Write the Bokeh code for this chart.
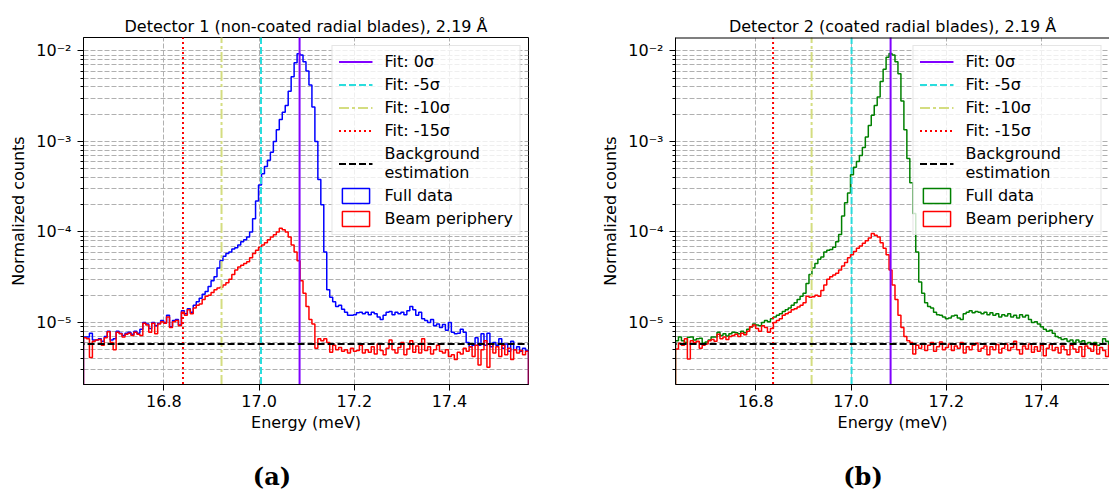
import numpy as np
from bokeh.plotting import figure
from bokeh.models import (Range1d, FixedTicker, PrintfTickFormatter, Legend,
                          LegendItem, Div)
from bokeh.layouts import row, column
from bokeh.embed import file_html
from bokeh.resources import INLINE

# ---------------- data ----------------
energy_bin_start = 16.631   # meV, left edge of first bin
energy_bin_width = 0.006233  # meV
n_bins = 150

full_a = [
    6.9e-6, 6.9e-6, 7.6e-6, 6.4e-6, 6.4e-6, 6.6e-6, 6.2e-6, 7.0e-6, 8.0e-6, 6.4e-6,
    6.6e-6, 8.0e-6, 7.6e-6, 7.2e-6, 7.6e-6, 7.8e-6, 7.4e-6, 8.0e-6, 7.6e-6, 8.4e-6,
    1.0e-5, 9.6e-6, 8.6e-6, 1.0e-5, 9.2e-6, 9.8e-6, 1.05e-5, 1.0e-5, 1.2e-5, 9.0e-6,
    1.05e-5, 1.08e-5, 9.4e-6, 1.35e-5, 1.25e-5, 1.42e-5, 1.3e-5, 1.55e-5, 1.7e-5, 1.85e-5,
    2.05e-5, 2.2e-5, 2.5e-5, 2.9e-5, 3.2e-5, 4.0e-5, 4.8e-5, 5.4e-5, 5.8e-5, 6.0e-5,
    6.5e-5, 6.7e-5, 7.2e-5, 7.8e-5, 8.2e-5, 8.8e-5, 1.0e-4, 1.4e-4, 2.2e-4, 3.3e-4,
    4.4e-4, 5.3e-4, 6.2e-4, 7.6e-4, 1.0e-3, 1.35e-3, 1.75e-3, 2.1e-3, 2.5e-3, 3.6e-3,
    5.2e-3, 7.4e-3, 9.3e-3, 9.0e-3, 7.6e-3, 6.0e-3, 4.2e-3, 2.4e-3, 1.0e-3, 3.8e-4,
    2.0e-4, 6.0e-5, 2.3e-5, 1.9e-5, 1.7e-5, 1.5e-5, 1.55e-5, 1.4e-5, 1.3e-5, 1.2e-5,
    1.2e-5, 1.22e-5, 1.28e-5, 1.3e-5, 1.25e-5, 1.3e-5, 1.22e-5, 1.3e-5, 1.25e-5, 1.15e-5,
    1.08e-5, 1.2e-5, 1.3e-5, 1.32e-5, 1.22e-5, 1.3e-5, 1.25e-5, 1.3e-5, 1.22e-5, 1.35e-5,
    1.5e-5, 1.38e-5, 1.2e-5, 1.3e-5, 1.1e-5, 1.05e-5, 1.0e-5, 1.08e-5, 9.2e-6, 9.6e-6,
    8.8e-6, 9.5e-6, 8.2e-6, 1.0e-5, 7.8e-6, 7.5e-6, 7.6e-6, 8.4e-6, 7.8e-6, 6.0e-6,
    5.4e-6, 5.6e-6, 6.8e-6, 5.6e-6, 7.5e-6, 5.6e-6, 7.6e-6, 5.4e-6, 6.0e-6, 5.6e-6,
    6.6e-6, 5.2e-6, 5.8e-6, 4.8e-6, 6.2e-6, 5.0e-6, 5.4e-6, 4.8e-6, 5.2e-6, 4.9e-6,
]

beam_a = [
    6.8e-6, 6.6e-6, 4.1e-6, 6.2e-6, 6.4e-6, 6.5e-6, 5.6e-6, 6.8e-6, 7.9e-6, 6.0e-6,
    5.0e-6, 7.8e-6, 7.5e-6, 6.9e-6, 7.4e-6, 7.6e-6, 7.2e-6, 7.8e-6, 7.4e-6, 7.2e-6,
    9.8e-6, 9.4e-6, 7.8e-6, 9.8e-6, 7.5e-6, 9.6e-6, 1.02e-5, 9.8e-6, 1.15e-5, 8.8e-6,
    1.02e-5, 1.05e-5, 9.2e-6, 1.3e-5, 1.2e-5, 1.38e-5, 1.25e-5, 1.45e-5, 1.55e-5, 1.6e-5,
    1.8e-5, 1.95e-5, 2.0e-5, 2.15e-5, 2.3e-5, 2.4e-5, 2.45e-5, 2.6e-5, 2.75e-5, 3.0e-5,
    3.4e-5, 3.8e-5, 4.1e-5, 4.3e-5, 4.5e-5, 4.7e-5, 5.2e-5, 5.8e-5, 6.3e-5, 6.8e-5,
    7.2e-5, 7.6e-5, 8.2e-5, 8.8e-5, 9.3e-5, 1.0e-4, 1.1e-4, 1.06e-4, 1.0e-4, 8.8e-5,
    7.2e-5, 6.0e-5, 4.8e-5, 2.9e-5, 2.1e-5, 1.5e-5, 1.08e-5, 9.6e-6, 5.2e-6, 6.6e-6,
    6.3e-6, 6.6e-6, 6.0e-6, 4.7e-6, 5.6e-6, 5.0e-6, 5.3e-6, 4.8e-6, 5.0e-6, 4.6e-6,
    5.2e-6, 4.8e-6, 4.9e-6, 5.6e-6, 4.6e-6, 5.0e-6, 4.7e-6, 5.4e-6, 4.5e-6, 5.8e-6,
    4.9e-6, 4.4e-6, 5.2e-6, 6.4e-6, 5.0e-6, 4.6e-6, 5.3e-6, 6.0e-6, 4.4e-6, 5.1e-6,
    6.3e-6, 4.7e-6, 5.5e-6, 4.6e-6, 6.6e-6, 4.9e-6, 5.4e-6, 4.5e-6, 5.0e-6, 5.6e-6,
    4.8e-6, 4.6e-6, 5.0e-6, 4.2e-6, 4.4e-6, 3.9e-6, 4.7e-6, 4.5e-6, 5.2e-6, 4.8e-6,
    5.4e-6, 4.2e-6, 5.6e-6, 3.4e-6, 5.0e-6, 6.3e-6, 3.2e-6, 5.8e-6, 4.6e-6, 5.4e-6,
    4.2e-6, 5.6e-6, 4.4e-6, 5.2e-6, 3.9e-6, 5.0e-6, 4.6e-6, 4.9e-6, 4.4e-6, 4.8e-6,
]

full_b = [
    6.3e-6, 6.9e-6, 6.3e-6, 6.0e-6, 6.85e-6, 6.9e-6, 6.4e-6, 6.6e-6, 6.7e-6, 5.9e-6,
    6.1e-6, 6.4e-6, 6.9e-6, 6.9e-6, 7.8e-6, 7.2e-6, 7.5e-6, 7.1e-6, 7.5e-6, 7.8e-6,
    7.7e-6, 7.5e-6, 8.0e-6, 7.7e-6, 8.4e-6, 8.9e-6, 9.6e-6, 9.4e-6, 9.2e-6, 1.0e-5,
    1.05e-5, 1.02e-5, 1.1e-5, 1.15e-5, 1.2e-5, 1.25e-5, 1.32e-5, 1.38e-5, 1.45e-5, 1.55e-5,
    1.65e-5, 1.8e-5, 1.95e-5, 2.1e-5, 2.7e-5, 3.4e-5, 4.0e-5, 4.5e-5, 5.0e-5, 5.3e-5,
    6.0e-5, 6.3e-5, 6.4e-5, 6.8e-5, 7.8e-5, 9.4e-5, 1.5e-4, 2.1e-4, 2.7e-4, 4.3e-4,
    5.2e-4, 6.0e-4, 7.0e-4, 8.6e-4, 1.12e-3, 1.5e-3, 1.95e-3, 2.5e-3, 3.1e-3, 4.6e-3,
    6.3e-3, 8.5e-3, 9.4e-3, 9.0e-3, 7.6e-3, 5.6e-3, 2.8e-3, 1.35e-3, 6.5e-4, 3.5e-4,
    1.6e-4, 6.0e-5, 2.8e-5, 2.1e-5, 1.65e-5, 1.5e-5, 1.45e-5, 1.3e-5, 1.22e-5, 1.2e-5,
    1.15e-5, 1.1e-5, 1.12e-5, 1.18e-5, 1.2e-5, 1.12e-5, 1.08e-5, 1.25e-5, 1.3e-5, 1.35e-5,
    1.28e-5, 1.32e-5, 1.3e-5, 1.25e-5, 1.3e-5, 1.22e-5, 1.28e-5, 1.2e-5, 1.25e-5, 1.15e-5,
    1.22e-5, 1.18e-5, 1.25e-5, 1.15e-5, 1.2e-5, 1.12e-5, 1.22e-5, 1.15e-5, 1.2e-5, 1.08e-5,
    1.0e-5, 1.02e-5, 9.6e-6, 9.0e-6, 8.4e-6, 8.0e-6, 8.2e-6, 7.6e-6, 7.0e-6, 6.8e-6,
    6.5e-6, 6.6e-6, 6.2e-6, 6.4e-6, 6.0e-6, 6.4e-6, 6.1e-6, 6.3e-6, 5.8e-6, 6.0e-6,
    5.7e-6, 6.0e-6, 5.6e-6, 5.8e-6, 6.6e-6, 6.2e-6, 5.6e-6, 5.8e-6, 5.6e-6, 5.5e-6,
]

beam_b = [
    5.1e-6, 5.9e-6, 5.6e-6, 6.6e-6, 3.95e-6, 6.3e-6, 6.0e-6, 6.2e-6, 5.2e-6, 5.6e-6,
    5.8e-6, 6.3e-6, 6.5e-6, 6.2e-6, 7.4e-6, 6.6e-6, 6.9e-6, 6.5e-6, 7.0e-6, 7.2e-6,
    7.4e-6, 7.0e-6, 7.6e-6, 7.3e-6, 8.0e-6, 9.0e-6, 9.4e-6, 8.6e-6, 8.0e-6, 9.2e-6,
    8.8e-6, 7.8e-6, 8.6e-6, 1.0e-5, 1.05e-5, 1.1e-5, 1.2e-5, 1.25e-5, 1.3e-5, 1.38e-5,
    1.42e-5, 1.48e-5, 1.55e-5, 1.65e-5, 1.95e-5, 1.9e-5, 1.92e-5, 2.0e-5, 1.95e-5, 2.25e-5,
    2.6e-5, 3.0e-5, 3.2e-5, 3.35e-5, 3.5e-5, 3.8e-5, 4.2e-5, 4.6e-5, 5.2e-5, 5.6e-5,
    6.1e-5, 6.6e-5, 7.0e-5, 7.5e-5, 8.0e-5, 8.6e-5, 9.6e-5, 9.2e-5, 8.8e-5, 7.6e-5,
    6.6e-5, 5.6e-5, 3.8e-5, 2.6e-5, 1.8e-5, 1.2e-5, 8.8e-6, 7.0e-6, 6.3e-6, 6.0e-6,
    4.5e-6, 5.6e-6, 5.2e-6, 5.8e-6, 4.9e-6, 5.6e-6, 6.0e-6, 4.8e-6, 5.4e-6, 6.1e-6,
    5.0e-6, 5.3e-6, 5.8e-6, 4.9e-6, 5.5e-6, 5.2e-6, 6.0e-6, 4.6e-6, 5.4e-6, 5.0e-6,
    5.6e-6, 5.9e-6, 4.8e-6, 5.2e-6, 5.5e-6, 4.4e-6, 5.4e-6, 5.0e-6, 5.7e-6, 4.6e-6,
    5.2e-6, 5.8e-6, 4.9e-6, 5.3e-6, 6.2e-6, 5.0e-6, 4.5e-6, 5.5e-6, 5.1e-6, 5.8e-6,
    4.7e-6, 5.4e-6, 4.8e-6, 5.6e-6, 4.3e-6, 5.2e-6, 5.7e-6, 4.9e-6, 5.3e-6, 4.6e-6,
    5.5e-6, 5.0e-6, 4.4e-6, 5.6e-6, 5.1e-6, 4.7e-6, 5.4e-6, 4.2e-6, 5.5e-6, 5.2e-6,
    4.8e-6, 5.6e-6, 4.5e-6, 5.3e-6, 4.9e-6, 4.2e-6, 5.6e-6, 3.8e-6, 5.0e-6, 3.2e-6,
]

fit_labels = ["Fit: 0σ", "Fit: -5σ", "Fit: -10σ", "Fit: -15σ"]
fit_energy_a = [17.085, 17.004, 16.921, 16.840]
fit_energy_b = [17.083, 17.001, 16.917, 16.836]
background_a = 5.78e-6
background_b = 5.78e-6

titles = ["Detector 1 (non-coated radial blades), 2.19 Å",
          "Detector 2 (coated radial blades), 2.19 Å"]
sub_captions = ["(a)", "(b)"]
x_tick_values = [16.8, 17.0, 17.2, 17.4]
y_tick_values = [1e-5, 1e-4, 1e-3, 1e-2]
y_tick_labels = ["10⁻⁵", "10⁻⁴", "10⁻³", "10⁻²"]
legend_labels_other = ["Background\nestimation", "Full data", "Beam periphery"]

# ---------------- styling ----------------
FONT = "DejaVu Sans"
FIT_COLORS = ["#8000ff", "#2adddd", "#d4dd80", "#ff0000"]
FIT_DASH = ["solid", "7 3", "10 3 3 3", "2 3"]
GRID_COLOR = "#b0b0b0"
Y_LO, Y_HI = 2.065e-6, 1.409e-2
FLOOR = 1e-8
CEIL = 1.0
FIG_H = 455
CAP_H = 491 - FIG_H


def make_panel(idx, full, beam, full_color, fits, bg, width, bl, br, x_end,
               outline, title_offset):
    p = figure(width=width, height=FIG_H, y_axis_type="log",
               x_range=Range1d(energy_bin_start, x_end),
               y_range=Range1d(Y_LO, Y_HI),
               output_backend="svg", toolbar_location=None,
               min_border_left=bl, min_border_right=br,
               min_border_top=37, min_border_bottom=FIG_H - 384)
    p.background_fill_color = "white"
    p.border_fill_color = "white"
    p.outline_line_color = "black" if outline else None
    p.outline_line_width = 1

    p.title.text = titles[idx]
    p.title.align = "center"
    p.title.text_font = FONT
    p.title.text_font_size = "16px"
    p.title.text_font_style = "normal"
    p.title.text_color = "black"
    p.title.standoff = 4
    p.title.offset = title_offset

    x0, x1 = energy_bin_start - 1.0, x_end + 1.0

    # histograms as step outlines (closed to the bottom like matplotlib's step hist)
    edges = energy_bin_start + energy_bin_width * np.arange(n_bins + 1)
    xs = np.repeat(edges, 2)
    r_full = p.patch(xs, np.concatenate([[FLOOR], np.repeat(full, 2), [FLOOR]]),
                     fill_color=None, line_color=full_color, line_width=1.5)
    r_beam = p.patch(xs, np.concatenate([[FLOOR], np.repeat(beam, 2), [FLOOR]]),
                     fill_color=None, line_color="#ff0000", line_width=1.5)

    items = []
    for lab, e, c, d in zip(fit_labels, fits, FIT_COLORS, FIT_DASH):
        r = p.line(x=[e, e], y=[FLOOR, CEIL], line_color=c, line_width=2, line_dash=d)
        items.append(LegendItem(label=lab, renderers=[r]))
    r_bg = p.line(x=[x0, x1], y=[bg, bg], line_color="black", line_width=2,
                  line_dash="7 3")
    items.append(LegendItem(label=legend_labels_other[0], renderers=[r_bg]))
    items.append(LegendItem(label=legend_labels_other[1], renderers=[r_full]))
    items.append(LegendItem(label=legend_labels_other[2], renderers=[r_beam]))

    if not outline:
        # top spine only (right side of this panel is cut off in the reference)
        p.line(x=[x0, x1], y=[Y_HI, Y_HI], line_color="black", line_width=2)

    legend = Legend(items=items, location="top_right",
                    label_text_font=FONT, label_text_font_size="16px",
                    label_text_color="black",
                    glyph_width=34, glyph_height=19, label_height=19,
                    label_standoff=12, padding=6, spacing=4, margin=8,
                    border_line_color="#cccccc", border_line_width=1,
                    background_fill_color="white", background_fill_alpha=0.8)
    p.add_layout(legend)

    # axes
    xt = FixedTicker(ticks=x_tick_values)
    p.xaxis.ticker = xt
    p.xgrid.ticker = xt
    p.xaxis.formatter = PrintfTickFormatter(format="%.1f")
    minor = [k * 10.0 ** e for e in range(-6, -1) for k in range(2, 10)]
    yt = FixedTicker(ticks=y_tick_values, minor_ticks=minor)
    p.yaxis.ticker = yt
    p.ygrid.ticker = yt
    p.yaxis.major_label_overrides = {v: l for v, l in zip(y_tick_values, y_tick_labels)}

    p.xaxis.axis_label = "Energy (meV)"
    p.yaxis.axis_label = "Normalized counts"
    for ax in (p.xaxis[0], p.yaxis[0]):
        ax.axis_label_text_font = FONT
        ax.axis_label_text_font_size = "16px"
        ax.axis_label_text_font_style = "normal"
        ax.axis_label_text_color = "black"
        ax.major_label_text_font = FONT
        ax.major_label_text_font_size = "16px"
        ax.major_label_text_color = "black"
        ax.axis_line_color = "black"
        ax.major_tick_line_color = "black"
        ax.minor_tick_line_color = "black"
        ax.major_tick_out = 6
        ax.major_tick_in = 0
        ax.minor_tick_out = 3
        ax.minor_tick_in = 0
    p.xaxis.minor_tick_line_color = None
    p.xaxis.major_label_standoff = 4
    p.xaxis.axis_label_standoff = 3
    p.yaxis.major_label_standoff = 6
    p.yaxis.axis_label_standoff = 5

    p.xgrid.grid_line_color = GRID_COLOR
    p.xgrid.grid_line_dash = "5 2"
    p.ygrid.grid_line_color = GRID_COLOR
    p.ygrid.grid_line_dash = "5 2"
    p.ygrid.minor_grid_line_color = GRID_COLOR
    p.ygrid.minor_grid_line_dash = "5 2"
    return p


def caption(idx, width, pad_left, pad_right):
    inner = ('<div style="box-sizing:border-box;width:%dpx;height:%dpx;'
             'padding-top:8px;padding-left:%dpx;padding-right:%dpx;'
             'text-align:center;line-height:28px;font-family:\'DejaVu Serif\';'
             'font-weight:bold;font-size:24px;color:black;">%s</div>'
             % (width, CAP_H, pad_left, pad_right, sub_captions[idx]))
    return Div(text=inner, width=width, height=CAP_H, margin=0)


pa = make_panel(0, full_a, beam_a, "#0000ff", fit_energy_a, background_a,
                width=555, bl=83, br=27, x_end=17.566,
                outline=True, title_offset=0)
pb = make_panel(1, full_b, beam_b, "#008000", fit_energy_b, background_b,
                width=554, bl=120, br=0, x_end=17.543,
                outline=False, title_offset=6)

ca = caption(0, 555, 0, 11)
cb = caption(1, 554, 62, 0)

layout = column(row(pa, pb), row(ca, cb))
open("out.html", "w").write(file_html(layout, INLINE))
